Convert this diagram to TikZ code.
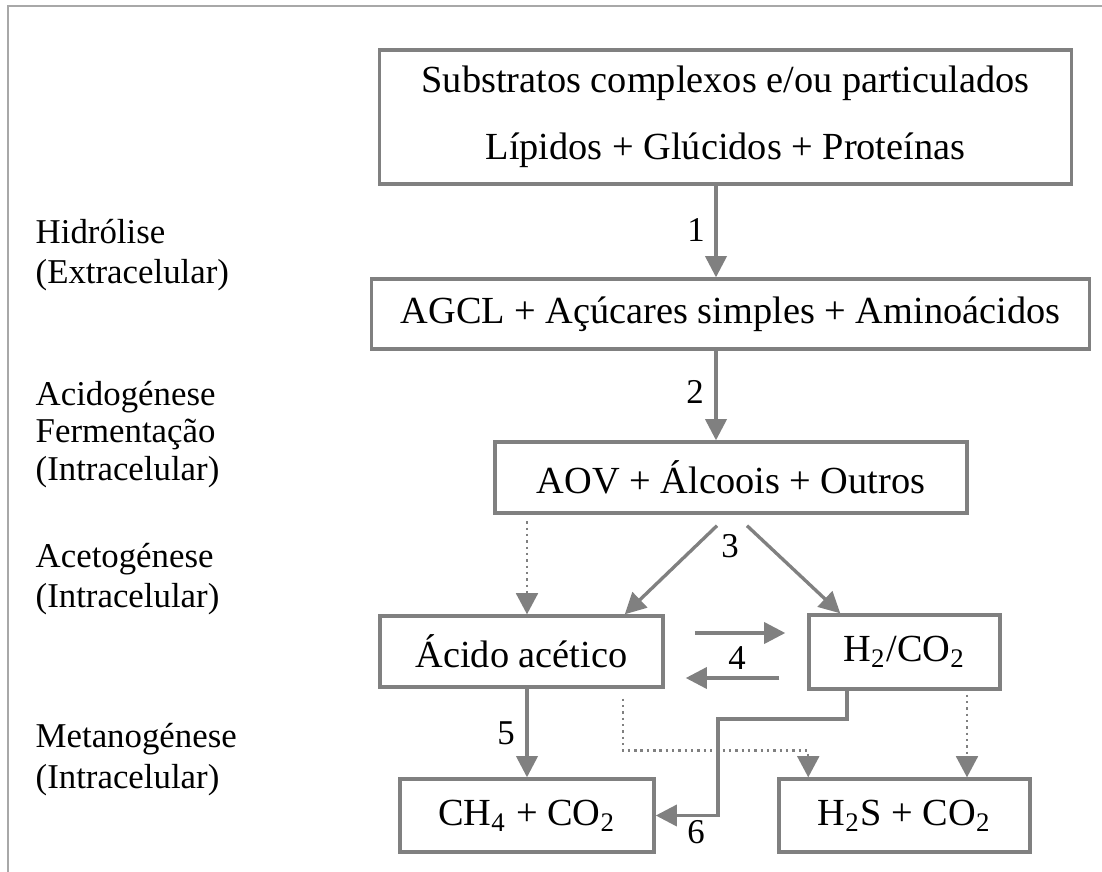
\documentclass[tikz,border=0pt]{standalone}
\usepackage{fontspec}
\setmainfont{Liberation Serif}
\usetikzlibrary{arrows.meta}
\definecolor{linegray}{RGB}{128,128,128}
\definecolor{framegray}{RGB}{168,168,168}
\tikzstyle{procbox}=[draw=linegray,line width=0.95pt,inner sep=0pt,align=center,font=\fontsize{10.9}{19}\selectfont]
\tikzstyle{edge}=[draw=linegray,line width=0.95pt,-{Triangle[length=6pt,width=6pt]}]
\tikzstyle{dotedge}=[draw=linegray,line width=0.7pt,dash pattern=on 0.7pt off 1.1pt,-{Triangle[length=6pt,width=6.2pt]}]
\tikzstyle{weight}=[inner sep=0pt,font=\fontsize{9.9}{11}\selectfont]
\tikzstyle{stage}=[anchor=base west,inner sep=0pt,font=\fontsize{9.9}{11}\selectfont]

\begin{document}
\begin{tikzpicture}[x=0.01cm,y=-0.01cm]

    \useasboundingbox (0,0) rectangle (1102,872);
    \draw[framegray, line width=0.6pt] (8,872) -- (8,6) -- (1102,6);

    % boxes
    \foreach \x/\y/\w/\h/\name/\txt in {725.5/117/6.91/1.34/sub/{Substratos complexos e/ou particulados\\Lípidos + Glúcidos + Proteínas},
        730.5/314/7.17/0.70/agcl/{AGCL + Açúcares simples + Aminoácidos},
        731/477.5/4.72/0.71/aov/{AOV + Álcoois + Outros},
        521.5/651.5/2.83/0.71/acido/{Ácido acético},
        904.5/652/1.91/0.74/hco/{H\textsubscript{2}/CO\textsubscript{2}},
        527/815.5/2.54/0.73/ch4/{CH\textsubscript{4} + CO\textsubscript{2}},
        904.5/815.5/2.51/0.73/hs/{H\textsubscript{2}S + CO\textsubscript{2}}}
        \node[procbox, minimum width=\w cm, minimum height=\h cm] (\name) at (\x,\y) {\txt};

    % stages
    \foreach \y/\txt in {243/Hidrólise, 283/{(Extracelular)}, 405/Acidogénese, 442/Fermentação, 480/{(Intracelular)},
        567/Acetogénese, 607/{(Intracelular)}, 747/Metanogénese, 788/{(Intracelular)}}
        \node[stage] (st\y) at (35,\y) {\txt};

    \coordinate (col) at (716,0);
    \coordinate (bend) at (718,719);

    \path[edge] (sub.south -| col) -- (agcl.north -| col);
    \path[edge] (agcl.south -| col) -- (aov.north -| col);
    \path[edge] ([shift={(-14,11)}]aov.south) -- ([shift={(-40,0)}]acido.north east);
    \path[edge] ([shift={(16,11)}]aov.south) -- ([shift={(33,0)}]hco.north west);
    \path[edge] ([shift={(30,-18.5)}]acido.east) -- ([shift={(-22,-19)}]hco.west);
    \path[edge] ([shift={(-28,26)}]hco.west) -- ([shift={(21,26.5)}]acido.east);
    \path[edge] (acido.south -| ch4.north) -- (ch4.north);
    \path[edge] ([shift={(-57.5,0)}]hco.south) |- (bend) |- (ch4.east);

%    dotted side routes
    \path[dotedge] ([shift={(5.5,-93)}]acido.north) -- ([shift={(5.5,0)}]acido.north);
    \path[dotedge] ([shift={(-42,10)}]acido.south east) -- ++(0,52) -| ([shift={(31,0)}]hs.north west);
    \path[dotedge] ([shift={(62.5,4)}]hco.south) -- ([shift={(62.5,0)}]hs.north);

    \foreach \x/\y/\n in {696/230/1, 695/392/2, 730/546/3, 737/658/4, 506/733/5, 696/832/6}
        \node[weight] (n\n) at (\x,\y) {\n};

\end{tikzpicture}
\end{document}
